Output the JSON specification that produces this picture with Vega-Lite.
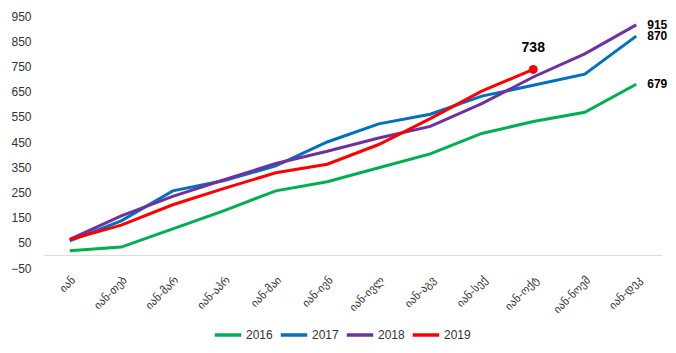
{
  "$schema": "https://vega.github.io/schema/vega-lite/v6.json",
  "width": 618,
  "height": 252,
  "autosize": {"type": "none"},
  "padding": {"left": 44, "top": 16, "right": 14, "bottom": 85},
  "background": "white",
  "config": {
    "view": {"stroke": null},
    "font": "DejaVu Sans"
  },
  "datasets": {
    "main": [
      {"month": "იან", "year": "2016", "value": 18},
      {"month": "იან-თებ", "year": "2016", "value": 33},
      {"month": "იან-მარ", "year": "2016", "value": 105},
      {"month": "იან-აპრ", "year": "2016", "value": 178},
      {"month": "იან-მაი", "year": "2016", "value": 256},
      {"month": "იან-ივნ", "year": "2016", "value": 292},
      {"month": "იან-ივლ", "year": "2016", "value": 348},
      {"month": "იან-აგვ", "year": "2016", "value": 403},
      {"month": "იან-სექ", "year": "2016", "value": 484},
      {"month": "იან-ოქტ", "year": "2016", "value": 531},
      {"month": "იან-ნოემ", "year": "2016", "value": 568},
      {"month": "იან-დეკ", "year": "2016", "value": 679},
      {"month": "იან", "year": "2017", "value": 58},
      {"month": "იან-თებ", "year": "2017", "value": 137},
      {"month": "იან-მარ", "year": "2017", "value": 256},
      {"month": "იან-აპრ", "year": "2017", "value": 297},
      {"month": "იან-მაი", "year": "2017", "value": 355},
      {"month": "იან-ივნ", "year": "2017", "value": 450},
      {"month": "იან-ივლ", "year": "2017", "value": 522},
      {"month": "იან-აგვ", "year": "2017", "value": 560},
      {"month": "იან-სექ", "year": "2017", "value": 632},
      {"month": "იან-ოქტ", "year": "2017", "value": 675},
      {"month": "იან-ნოემ", "year": "2017", "value": 719},
      {"month": "იან-დეკ", "year": "2017", "value": 870},
      {"month": "იან", "year": "2018", "value": 64},
      {"month": "იან-თებ", "year": "2018", "value": 157},
      {"month": "იან-მარ", "year": "2018", "value": 234},
      {"month": "იან-აპრ", "year": "2018", "value": 300},
      {"month": "იან-მაი", "year": "2018", "value": 365},
      {"month": "იან-ივნ", "year": "2018", "value": 413},
      {"month": "იან-ივლ", "year": "2018", "value": 466},
      {"month": "იან-აგვ", "year": "2018", "value": 512},
      {"month": "იან-სექ", "year": "2018", "value": 602},
      {"month": "იან-ოქტ", "year": "2018", "value": 708},
      {"month": "იან-ნოემ", "year": "2018", "value": 800},
      {"month": "იან-დეკ", "year": "2018", "value": 915},
      {"month": "იან", "year": "2019", "value": 63},
      {"month": "იან-თებ", "year": "2019", "value": 120},
      {"month": "იან-მარ", "year": "2019", "value": 201},
      {"month": "იან-აპრ", "year": "2019", "value": 266},
      {"month": "იან-მაი", "year": "2019", "value": 328},
      {"month": "იან-ივნ", "year": "2019", "value": 362},
      {"month": "იან-ივლ", "year": "2019", "value": 440},
      {"month": "იან-აგვ", "year": "2019", "value": 543},
      {"month": "იან-სექ", "year": "2019", "value": 652},
      {"month": "იან-ოქტ", "year": "2019", "value": 738}
    ]
  },
  "data": {"name": "main"},
  "encoding": {
    "x": {
      "field": "month",
      "type": "nominal",
      "sort": ["იან", "იან-თებ", "იან-მარ", "იან-აპრ", "იან-მაი", "იან-ივნ", "იან-ივლ", "იან-აგვ", "იან-სექ", "იან-ოქტ", "იან-ნოემ", "იან-დეკ"],
      "scale": {"type": "band", "paddingInner": 0, "paddingOuter": 0},
      "axis": {
        "title": null,
        "domain": false,
        "ticks": false,
        "labelAngle": -45,
        "labelFontSize": 11,
        "labelColor": "#333333",
        "labelPadding": 6
      }
    },
    "y": {
      "field": "value",
      "type": "quantitative",
      "scale": {"domain": [-50, 950], "nice": false, "zero": false},
      "axis": {
        "title": null,
        "domain": false,
        "ticks": false,
        "grid": false,
        "values": [-50, 50, 150, 250, 350, 450, 550, 650, 750, 850, 950],
        "labelFont": "Liberation Sans",
        "labelFontSize": 12,
        "labelColor": "#333333",
        "labelPadding": 13
      }
    },
    "color": {
      "field": "year",
      "type": "nominal",
      "scale": {"domain": ["2016", "2017", "2018", "2019"], "range": ["#00B050", "#0070C0", "#7030A0", "#FF0000"]},
      "legend": {
        "title": null,
        "orient": "none",
        "legendX": 169,
        "legendY": 304,
        "direction": "horizontal",
        "symbolType": "stroke",
        "symbolStrokeWidth": 3.5,
        "symbolSize": 700,
        "labelFont": "Liberation Sans",
        "labelFontSize": 12,
        "labelColor": "#333333",
        "columnPadding": 0,
        "labelOffset": 3
      }
    }
  },
  "layer": [
    {
      "mark": {"type": "rule", "color": "#d9d9d9", "strokeWidth": 1},
      "data": {"values": [{"zero": 0}]},
      "encoding": {
        "y": {"field": "zero", "type": "quantitative"},
        "x": null,
        "color": null
      }
    },
    {
      "mark": {"type": "line", "strokeWidth": 3}
    },
    {
      "transform": [{"filter": "datum.year == '2019' && datum.month == 'იან-ოქტ'"}],
      "mark": {"type": "point", "filled": true, "size": 80, "opacity": 1}
    },
    {
      "transform": [{"filter": "datum.year == '2019' && datum.month == 'იან-ოქტ'"}],
      "mark": {"type": "text", "dy": -21, "fontWeight": "bold", "fontSize": 14, "font": "Liberation Sans", "color": "black"},
      "encoding": {"text": {"field": "value", "type": "quantitative"}, "color": null}
    },
    {
      "transform": [{"filter": "datum.year != '2019' && datum.month == 'იან-დეკ'"}],
      "mark": {"type": "text", "align": "left", "baseline": "middle", "dx": 11, "fontWeight": "bold", "fontSize": 12, "font": "Liberation Sans", "color": "black"},
      "encoding": {"text": {"field": "value", "type": "quantitative"}, "color": null}
    }
  ]
}
